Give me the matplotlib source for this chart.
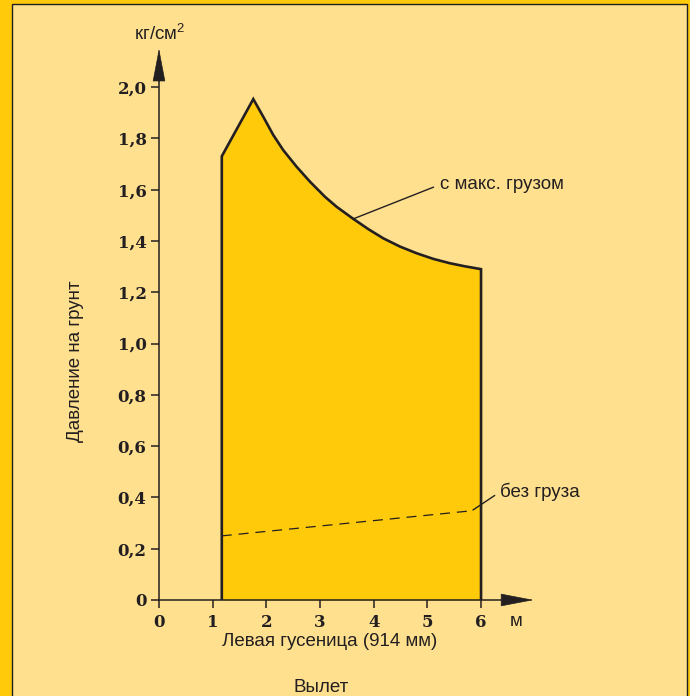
import matplotlib
matplotlib.use("Agg")
import matplotlib.pyplot as plt
from matplotlib.patches import Rectangle

# данные
vylet = [1.17, 1.757, 1.943, 2.129, 2.315, 2.565, 2.813, 3.093, 3.31, 3.62, 3.9,
         4.18, 4.49, 4.8, 5.11, 5.42, 5.7, 6.0]
s_gruzom = [1.73, 1.953, 1.884, 1.813, 1.754, 1.689, 1.631, 1.572, 1.533, 1.486,
            1.446, 1.41, 1.378, 1.352, 1.33, 1.313, 1.301, 1.29]
vylet_bez = [1.17, 5.83]
bez_gruza = [0.25, 0.348]
y_ticks = [0, 0.2, 0.4, 0.6, 0.8, 1.0, 1.2, 1.4, 1.6, 1.8, 2.0]
y_labels = ["0", "0,2", "0,4", "0,6", "0,8", "1,0", "1,2", "1,4", "1,6", "1,8", "2,0"]
x_ticks = [0, 1, 2, 3, 4, 5, 6]

dark = "#231f20"
fill_col = "#ffca0a"
panel_col = "#ffe08f"
sans = ["Liberation Sans", "DejaVu Sans"]
serif = ["DejaVu Serif"]
fs = 13.5

plt.rcParams["mathtext.fontset"] = "custom"
plt.rcParams["mathtext.rm"] = "Liberation Sans"
plt.rcParams["mathtext.it"] = "Liberation Sans"

fig = plt.figure(figsize=(6.9, 6.96), dpi=100)
fig.patch.set_facecolor(fill_col)
fig.patches.append(Rectangle((11.5 / 690, -0.01), 675.5 / 690, 692 / 696 + 0.01,
                             transform=fig.transFigure, facecolor=panel_col,
                             edgecolor=dark, linewidth=1.0, zorder=-1))

ax = fig.add_axes([159 / 690, 96 / 696, 375.7 / 690, 554 / 696])
ax.set_zorder(2)
ax.set_facecolor("none")
ax.set_xlim(0, 7.0)
ax.set_ylim(0, 2.16)

# залитая область с макс. грузом
ax.fill_between(vylet, 0, s_gruzom, color=fill_col, linewidth=0, zorder=1)
ax.plot([vylet[0]] + vylet + [vylet[-1]], [0] + s_gruzom + [0],
        color=dark, linewidth=1.9, solid_joinstyle="miter", zorder=3)
ax.plot(vylet_bez, bez_gruza, color=dark, linewidth=0.9, dashes=(8, 5.5), zorder=3)

# оси со стрелками
for side in ["top", "right"]:
    ax.spines[side].set_visible(False)
ax.spines["left"].set_bounds(0, 2.03)
ax.spines["bottom"].set_bounds(0, 6.42)
for side in ["left", "bottom"]:
    ax.spines[side].set_color(dark)
    ax.spines[side].set_linewidth(1.1)
    ax.spines[side].set_zorder(4)
ax.annotate("", xy=(0, 2.15), xytext=(0, 2.02), annotation_clip=False,
            arrowprops=dict(arrowstyle="-|>,head_length=2.2,head_width=0.42",
                            color=dark, linewidth=0.5, shrinkA=0, shrinkB=0))
ax.annotate("", xy=(6.98, 0), xytext=(6.40, 0), annotation_clip=False,
            arrowprops=dict(arrowstyle="-|>,head_length=2.2,head_width=0.42",
                            color=dark, linewidth=0.5, shrinkA=0, shrinkB=0))

ax.set_yticks(y_ticks)
ax.set_yticklabels(y_labels)
ax.set_xticks(x_ticks)
ax.tick_params(axis="both", direction="out", length=6, width=1.1, color=dark,
               labelcolor=dark)
ax.tick_params(axis="y", pad=3)
ax.tick_params(axis="x", pad=4)
for lab in ax.get_xticklabels() + ax.get_yticklabels():
    lab.set_family(serif)
    lab.set_fontweight("bold")
    lab.set_fontsize(12)

# подписи
ax.annotate("с макс. грузом", xy=(3.62, 1.486), xytext=(5.24, 1.62),
            fontsize=fs, family=sans, color=dark, va="center", ha="left",
            arrowprops=dict(arrowstyle="-", color=dark, linewidth=1.0,
                            shrinkA=3, shrinkB=0, relpos=(0, 0.5)))
ax.annotate("без груза", xy=(5.85, 0.351), xytext=(6.35, 0.421),
            fontsize=fs, family=sans, color=dark, va="center", ha="left",
            annotation_clip=False,
            arrowprops=dict(arrowstyle="-", color=dark, linewidth=1.0,
                            shrinkA=2, shrinkB=0, relpos=(0, 0.5)))
ax.text(6.66, -0.085, "м", fontsize=fs, family=sans, color=dark,
        ha="center", va="center")
ax.text(0.02, 2.207, "кг/см$^{2}$", fontsize=fs, family=sans, color=dark,
        ha="center", va="center", clip_on=False)

fig.text(330 / 690, 1 - 641 / 696, "Левая гусеница (914 мм)", fontsize=fs,
         family=sans, color=dark, ha="center", va="center")
fig.text(321 / 690, 1 - 687 / 696, "Вылет", fontsize=fs,
         family=sans, color=dark, ha="center", va="center")
fig.text(75 / 690, 1 - 361 / 696, "Давление на грунт", fontsize=fs,
         family=sans, color=dark, ha="center", va="center", rotation=90)

fig.savefig("out.png", dpi=100, facecolor=fig.get_facecolor())
